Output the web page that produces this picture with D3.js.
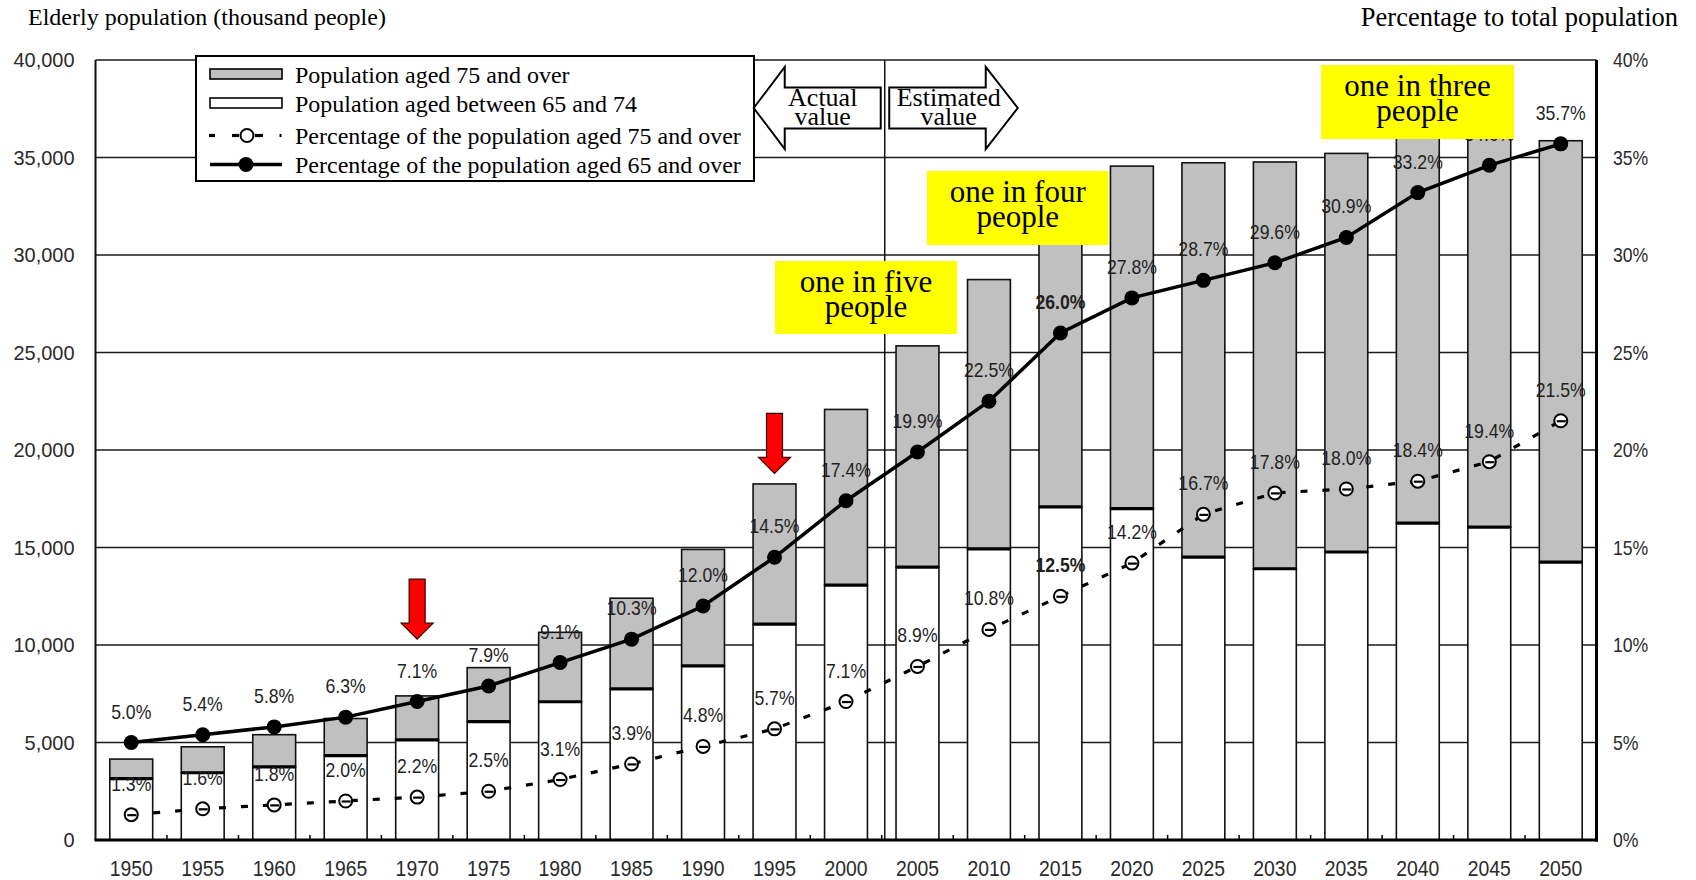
<!DOCTYPE html>
<html>
<head>
<meta charset="utf-8">
<script src="https://cdn.jsdelivr.net/npm/d3@7"></script>
<style>
  html, body { margin: 0; padding: 0; background: #fff; }
  svg { display: block; }
  .num { font-family: 'Liberation Sans', Arial, sans-serif; }
  .serif { font-family: 'Liberation Serif', 'Times New Roman', serif; }
</style>
</head>
<body>
<svg id="chart" width="1696" height="880"></svg>
<script>
// Elderly population of Japan, thousand people
const years = ["1950","1955","1960","1965","1970","1975","1980","1985","1990","1995","2000",
               "2005","2010","2015","2020","2025","2030","2035","2040","2045","2050"];
const aged65to74 = [3150, 3450, 3750, 4330, 5130, 6070, 7090, 7750, 8930, 11070, 13070,
                    13990, 14930, 17080, 16990, 14510, 13910, 14770, 16250, 16050, 14250];
const aged75plus = [1000, 1330, 1650, 1900, 2260, 2770, 3560, 4650, 5970, 7190, 9010,
                    11350, 13810, 15690, 17570, 20220, 20860, 20440, 20080, 20350, 21610];
// Share of total population, percent
const pct65plus = [5.0, 5.4, 5.8, 6.3, 7.1, 7.9, 9.1, 10.3, 12.0, 14.5, 17.4,
                   19.9, 22.5, 26.0, 27.8, 28.7, 29.6, 30.9, 33.2, 34.6, 35.7];
const pct75plus = [1.3, 1.6, 1.8, 2.0, 2.2, 2.5, 3.1, 3.9, 4.8, 5.7, 7.1,
                   8.9, 10.8, 12.5, 14.2, 16.7, 17.8, 18.0, 18.4, 19.4, 21.5];
const leftTicks = [0, 5000, 10000, 15000, 20000, 25000, 30000, 35000, 40000];
const rightTicks = [0, 5, 10, 15, 20, 25, 30, 35, 40];
const firstEstimatedYear = "2005";
// red pointer arrows: year and the value their tip points at
const pointerYears = ["1970", "1995"];
const pointerTips = [10300, 18800];
const calloutLines = [["one in five", "people"], ["one in four", "people"], ["one in three", "people"]];
const boldLabelYears = ["2015"];

const svg = d3.select("#chart");
const plotL = 95.5, plotR = 1596.5, plotT = 60, plotB = 840;

const x = d3.scaleBand().domain(years).range([plotL, plotR]).paddingInner(0.4).paddingOuter(0.2);
const y = d3.scaleLinear().domain([0, 40000]).range([plotB, plotT]);
const yR = d3.scaleLinear().domain([0, 40]).range([plotB, plotT]);
const step = x.step(), bw = x.bandwidth();
const cx = d => x(d) + bw / 2;
const bandStart = d => cx(d) - step / 2;

// narrow the numeric labels horizontally, keeping their anchor
function condense(sel, k) {
  sel.each(function () {
    const len = this.getComputedTextLength();
    d3.select(this).attr("textLength", len * k).attr("lengthAdjust", "spacingAndGlyphs");
  });
}

const rows = years.map((yr, i) => ({
  year: yr, young: aged65to74[i], old: aged75plus[i], p65: pct65plus[i], p75: pct75plus[i]
}));

// horizontal grid
svg.append("g").selectAll("line").data(leftTicks.filter(d => d > 0)).join("line")
  .attr("x1", plotL).attr("x2", plotR)
  .attr("y1", d => y(d)).attr("y2", d => y(d))
  .attr("stroke", "#1a1a1a").attr("stroke-width", 1.5);

// stacked bars
const bars = svg.append("g");
bars.selectAll("rect.young").data(rows).join("rect").attr("class", "young")
  .attr("x", d => x(d.year)).attr("width", bw)
  .attr("y", d => y(d.young)).attr("height", d => y(0) - y(d.young))
  .attr("fill", "#fff").attr("stroke", "#111").attr("stroke-width", 1.6);
bars.selectAll("rect.old").data(rows).join("rect").attr("class", "old")
  .attr("x", d => x(d.year)).attr("width", bw)
  .attr("y", d => y(d.young + d.old)).attr("height", d => y(d.young) - y(d.young + d.old))
  .attr("fill", "#c0c0c0").attr("stroke", "#111").attr("stroke-width", 1.6);
bars.selectAll("line.split").data(rows).join("line").attr("class", "split")
  .attr("x1", d => x(d.year)).attr("x2", d => x(d.year) + bw)
  .attr("y1", d => y(d.young)).attr("y2", d => y(d.young))
  .attr("stroke", "#000").attr("stroke-width", 3.2);

// actual / estimated divider
const divX = bandStart(firstEstimatedYear) + 3;
svg.append("line").attr("x1", divX).attr("x2", divX).attr("y1", plotT).attr("y2", plotB)
  .attr("stroke", "#111").attr("stroke-width", 1.5);

// frame
svg.append("line").attr("x1", plotL).attr("x2", plotL).attr("y1", plotT).attr("y2", plotB)
  .attr("stroke", "#111").attr("stroke-width", 2);
svg.append("line").attr("x1", plotR).attr("x2", plotR).attr("y1", plotT).attr("y2", plotB + 1.5)
  .attr("stroke", "#000").attr("stroke-width", 3);
svg.append("line").attr("x1", plotL - 1).attr("x2", plotR + 1.5).attr("y1", plotB).attr("y2", plotB)
  .attr("stroke", "#000").attr("stroke-width", 3.2);
// small category ticks on the baseline
svg.append("g").selectAll("line").data(years.slice(1)).join("line")
  .attr("x1", d => bandStart(d)).attr("x2", d => bandStart(d))
  .attr("y1", plotB).attr("y2", plotB - 5)
  .attr("stroke", "#000").attr("stroke-width", 1.5);

// 75+ share: dashed line with open markers
const line75 = d3.line().x(d => cx(d.year)).y(d => yR(d.p75));
svg.append("path").datum(rows).attr("d", line75)
  .attr("fill", "none").attr("stroke", "#000").attr("stroke-width", 3.2)
  .attr("stroke-dasharray", "7,15");
const m75 = svg.append("g").selectAll("g").data(rows).join("g")
  .attr("transform", d => `translate(${cx(d.year)},${yR(d.p75)})`);
m75.append("circle").attr("r", 6.5).attr("fill", "#fff").attr("stroke", "#000").attr("stroke-width", 2);
m75.append("line").attr("x1", -4).attr("x2", 5).attr("y1", 0.5).attr("y2", 0.5)
  .attr("stroke", "#000").attr("stroke-width", 2.2);

// 65+ share: solid line with filled markers
const line65 = d3.line().x(d => cx(d.year)).y(d => yR(d.p65));
svg.append("path").datum(rows).attr("d", line65)
  .attr("fill", "none").attr("stroke", "#000").attr("stroke-width", 3.5);
svg.append("g").selectAll("circle").data(rows).join("circle")
  .attr("cx", d => cx(d.year)).attr("cy", d => yR(d.p65)).attr("r", 7.5).attr("fill", "#000");

// value labels
const fmt = d => d3.format(".1f")(d) + "%";
const labels = svg.append("g").attr("class", "num").attr("font-size", 21).attr("fill", "#1f1f1f")
  .attr("text-anchor", "middle");
labels.selectAll("text.l65").data(rows).join("text").attr("class", "l65")
  .attr("x", d => cx(d.year)).attr("y", d => yR(d.p65) - 24)
  .attr("font-weight", d => boldLabelYears.includes(d.year) ? "bold" : null)
  .text(d => fmt(d.p65));
labels.selectAll("text.l75").data(rows).join("text").attr("class", "l75")
  .attr("x", d => cx(d.year)).attr("y", d => yR(d.p75) - 24)
  .attr("font-weight", d => boldLabelYears.includes(d.year) ? "bold" : null)
  .text(d => fmt(d.p75));
condense(labels.selectAll("text"), 0.84);

// axes
const axL = svg.append("g").attr("transform", `translate(${plotL},0)`)
  .call(d3.axisLeft(y).tickValues(leftTicks).tickFormat(d3.format(",")).tickSize(0).tickPadding(21));
const axR = svg.append("g").attr("transform", `translate(${plotR},0)`)
  .call(d3.axisRight(yR).tickValues(rightTicks).tickFormat(d => d + "%").tickSize(0).tickPadding(16.5));
const axB = svg.append("g").attr("transform", `translate(0,${plotB})`)
  .call(d3.axisBottom(x).tickSize(0).tickPadding(20));
[axL, axR, axB].forEach(a => {
  a.attr("font-family", null).attr("font-size", null);
  a.select(".domain").remove();
  a.selectAll("text").attr("class", "num").attr("fill", "#2a2a2a");
});
axL.selectAll("text").attr("font-size", 21);
axR.selectAll("text").attr("font-size", 21);
axB.selectAll("text").attr("font-size", 22);
condense(axL.selectAll("text"), 0.95);
condense(axR.selectAll("text"), 0.84);
condense(axB.selectAll("text"), 0.88);

// axis titles
svg.append("text").attr("class", "serif").attr("x", 28).attr("y", 25).attr("font-size", 24)
  .attr("fill", "#000").text("Elderly population (thousand people)");
svg.append("text").attr("class", "serif").attr("x", 1678).attr("y", 26).attr("font-size", 26.5)
  .attr("text-anchor", "end").attr("fill", "#000").text("Percentage to total population");

// legend
const lg = svg.append("g");
lg.append("rect").attr("x", 196).attr("y", 56).attr("width", 558).attr("height", 125)
  .attr("fill", "#fff").attr("stroke", "#000").attr("stroke-width", 2);
const legendRows = [74.5, 103.5, 135.5, 164.5];
const legendText = ["Population aged 75 and over", "Population aged between 65 and 74",
  "Percentage of the population aged 75 and over", "Percentage of the population aged 65 and over"];
lg.append("rect").attr("x", 210).attr("y", legendRows[0] - 5.5).attr("width", 72).attr("height", 10)
  .attr("fill", "#c0c0c0").attr("stroke", "#000").attr("stroke-width", 1.6);
lg.append("rect").attr("x", 210).attr("y", legendRows[1] - 5.5).attr("width", 72).attr("height", 10)
  .attr("fill", "#fff").attr("stroke", "#000").attr("stroke-width", 1.6);
[[209, 215], [232, 239], [255, 263], [279.5, 281.5]].forEach(s => {
  lg.append("line").attr("x1", s[0]).attr("x2", s[1]).attr("y1", legendRows[2]).attr("y2", legendRows[2])
    .attr("stroke", "#000").attr("stroke-width", 3.2);
});
lg.append("circle").attr("cx", 247).attr("cy", legendRows[2]).attr("r", 6.5)
  .attr("fill", "#fff").attr("stroke", "#000").attr("stroke-width", 2);
lg.append("line").attr("x1", 210).attr("x2", 282).attr("y1", legendRows[3]).attr("y2", legendRows[3])
  .attr("stroke", "#000").attr("stroke-width", 3.5);
lg.append("circle").attr("cx", 246).attr("cy", legendRows[3]).attr("r", 7.5).attr("fill", "#000");
lg.selectAll("text").data(legendText).join("text").attr("class", "serif")
  .attr("x", 295).attr("y", (d, i) => legendRows[i] + 8.5).attr("font-size", 24).attr("fill", "#000")
  .text(d => d);

// actual / estimated block arrows
const ay = 108;
const leftArrow = [[divX - 131, ay], [divX - 100, ay - 41], [divX - 100, ay - 20.5], [divX - 4, ay - 20.5],
  [divX - 4, ay + 20.5], [divX - 100, ay + 20.5], [divX - 100, ay + 41]];
const rightArrow = [[divX + 4.5, ay - 20.5], [divX + 101, ay - 20.5], [divX + 101, ay - 41], [divX + 133, ay],
  [divX + 101, ay + 41], [divX + 101, ay + 20.5], [divX + 4.5, ay + 20.5]];
[leftArrow, rightArrow].forEach(p => {
  svg.append("polygon").attr("points", p.map(q => q.join(",")).join(" "))
    .attr("fill", "#fff").attr("stroke", "#000").attr("stroke-width", 2);
});
const arrowText = [{x: divX - 62, lines: ["Actual", "value"]}, {x: divX + 64, lines: ["Estimated", "value"]}];
arrowText.forEach(t => {
  t.lines.forEach((s, i) => {
    svg.append("text").attr("class", "serif").attr("x", t.x).attr("y", ay - 2 + i * 19)
      .attr("text-anchor", "middle").attr("font-size", 26).attr("fill", "#000").text(s);
  });
});

// red pointer arrows
pointerYears.forEach((yr, i) => {
  const tx = cx(yr), ty = y(pointerTips[i]);
  const pts = [[tx - 8, ty - 60], [tx + 8, ty - 60], [tx + 8, ty - 16], [tx + 16, ty - 16],
    [tx, ty], [tx - 16, ty - 16], [tx - 8, ty - 16]];
  svg.append("polygon").attr("points", pts.map(q => q.join(",")).join(" "))
    .attr("fill", "#ff0000").attr("stroke", "#3a0000").attr("stroke-width", 1.2);
});

// yellow callouts
const callouts = [
  {x: 775, y: 261, w: 182, h: 73},
  {x: 927, y: 171, w: 181.5, h: 74},
  {x: 1321, y: 65, w: 193, h: 74}
];
callouts.forEach((c, i) => {
  svg.append("rect").attr("x", c.x).attr("y", c.y).attr("width", c.w).attr("height", c.h).attr("fill", "#ffff00");
  calloutLines[i].forEach((s, j) => {
    svg.append("text").attr("class", "serif").attr("x", c.x + c.w / 2).attr("y", c.y + 31 + j * 25)
      .attr("text-anchor", "middle").attr("font-size", 31).attr("fill", "#000").text(s);
  });
});
</script>
</body>
</html>
